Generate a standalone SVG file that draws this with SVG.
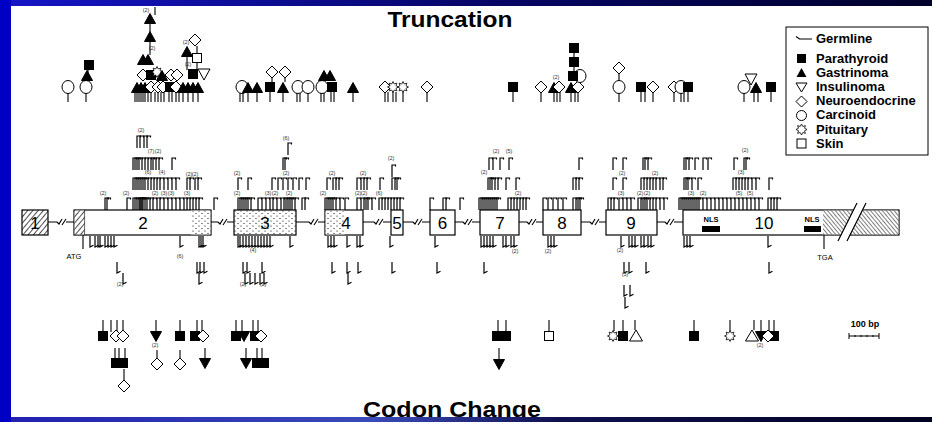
<svg xmlns="http://www.w3.org/2000/svg" width="932" height="422" viewBox="0 0 932 422">
<style>
.mk{stroke:#000;stroke-width:1.2;fill:none}
.st{stroke:#000;stroke-width:1.1;fill:none}
.sy{stroke:#000;stroke-width:1}
.n{font-family:"Liberation Sans",Arial,sans-serif;font-size:5.5px;fill:#333;text-anchor:middle}
.ex{font-family:"Liberation Sans",Arial,sans-serif;font-size:17px;fill:#000;text-anchor:middle}
.sm{font-family:"Liberation Sans",Arial,sans-serif;font-size:7.5px;fill:#000;text-anchor:middle}
.lg{font-family:"Liberation Sans",Arial,sans-serif;font-size:13px;font-weight:bold;fill:#000}
.ttl{font-family:"Liberation Sans",Arial,sans-serif;font-size:22px;font-weight:bold;fill:#000;text-anchor:middle}
.box{stroke:#000;stroke-width:1.2}
</style>
<defs>
<linearGradient id="gtop" x1="0" x2="1" y1="0" y2="0"><stop offset="0" stop-color="#1515c8"/><stop offset="0.5" stop-color="#06066a"/><stop offset="1" stop-color="#00002a"/></linearGradient>
<linearGradient id="gbot" x1="0" x2="1" y1="0" y2="0"><stop offset="0" stop-color="#2020b0"/><stop offset="0.4" stop-color="#3a4ab8"/><stop offset="0.6" stop-color="#101050"/><stop offset="1" stop-color="#000020"/></linearGradient>
<pattern id="hatch" width="4" height="4" patternUnits="userSpaceOnUse" patternTransform="rotate(40)"><rect width="4" height="4" fill="#fff"/><line x1="0" y1="0" x2="0" y2="4" stroke="#000" stroke-width="1.4"/></pattern>
<pattern id="hatch2" width="3" height="3" patternUnits="userSpaceOnUse" patternTransform="rotate(-40)"><rect width="3" height="3" fill="#fff"/><line x1="0" y1="0" x2="0" y2="3" stroke="#000" stroke-width="1"/></pattern>
<pattern id="dots" width="6" height="5" patternUnits="userSpaceOnUse"><rect width="6" height="5" fill="#fff"/><circle cx="1" cy="1" r="0.6" fill="#000"/><circle cx="4" cy="3.5" r="0.6" fill="#000"/></pattern>
<path id="u" d="M0 0V-12H3.5V-10.5"/>
<path id="d" d="M0 0V11L3.5 9.3"/>
<rect id="S" x="-4.5" y="-4.5" width="9" height="9" fill="#000" stroke="#000"/>
<rect id="So" x="-4.5" y="-4.5" width="9" height="9" fill="#fff" stroke="#000"/>
<polygon id="T" points="0,-5.5 5.5,4.5 -5.5,4.5" fill="#000" stroke="#000"/>
<polygon id="Td" points="-5.5,-4.5 5.5,-4.5 0,5.5" fill="#000" stroke="#000"/>
<polygon id="Ti" points="-6,-5 6,-5 0,6" fill="#fff" stroke="#000"/>
<polygon id="To" points="0,-6 6.5,5 -6.5,5" fill="#fff" stroke="#000"/>
<polygon id="D" points="0,-6 6,0 0,6 -6,0" fill="#fff" stroke="#000"/>
<ellipse id="C" rx="6" ry="6.5" fill="#fff" stroke="#000"/>
<polygon id="P" points="0,-5.5 1.3,-3 3.9,-3.9 3,-1.3 5.5,0 3,1.3 3.9,3.9 1.3,3 0,5.5 -1.3,3 -3.9,3.9 -3,1.3 -5.5,0 -3,-1.3 -3.9,-3.9 -1.3,-3" fill="#fff" stroke="#000" stroke-width="0.8"/>
</defs>

<rect width="932" height="422" fill="#fff"/>

<!-- titles -->
<text class="ttl" x="450" y="27" textLength="125" lengthAdjust="spacingAndGlyphs">Truncation</text>
<text class="ttl" x="452" y="417" textLength="178" lengthAdjust="spacingAndGlyphs">Codon Change</text>

<!-- connectors (introns) -->
<g id="connectors" class="st">
<path d="M48 222H57M66 222H74M211 222H218M227 222H234M296 222H309M318 222H325M363 222H374M383 222H391M403 222H413M422 222H430M455 222H463M472 222H480M519 222H527M536 222H543M581 222H590M599 222H606M657 222H665M674 222H683"/>
<path d="M57 222L59 224L62 219M62 225L66 219M218 222L220 224L223 219M223 225L227 219M309 222L311 224L314 219M314 225L318 219M374 222L376 224L379 219M379 225L383 219M413 222L415 224L418 219M418 225L422 219M463 222L465 224L468 219M468 225L472 219M527 222L529 224L532 219M532 225L536 219M590 222L592 224L595 219M595 225L599 219M665 222L667 224L670 219M670 225L674 219"/>
</g>

<!-- exons -->
<g id="exon1"><rect class="box" x="22" y="210" width="26" height="25" fill="url(#hatch)"/><text class="ex" x="35" y="229" fill="#000">1</text></g>
<g id="exon2"><rect class="box" x="74" y="210" width="137" height="25" fill="#fff"/><rect x="74.6" y="210.6" width="10" height="23.8" fill="url(#hatch)"/><line x1="84.6" y1="210" x2="84.6" y2="235" stroke="#000" stroke-width="0.6"/><rect x="191" y="210.6" width="19.4" height="23.8" fill="url(#dots)"/><text class="ex" x="143" y="229">2</text></g>
<g id="exon3"><rect class="box" x="234" y="210" width="62" height="25" fill="url(#dots)"/><text class="ex" x="265" y="229">3</text></g>
<g id="exon4"><rect class="box" x="325" y="210" width="38" height="25" fill="#fff"/><rect x="325.6" y="210.6" width="19" height="23.8" fill="url(#dots)"/><text class="ex" x="346" y="229">4</text></g>
<g id="exon5"><rect class="box" x="391" y="210" width="12" height="25" fill="#fff"/><text class="ex" x="397" y="229">5</text></g>
<g id="exon6"><rect class="box" x="430" y="210" width="25" height="25" fill="#fff"/><text class="ex" x="442.5" y="229">6</text></g>
<g id="exon7"><rect class="box" x="480" y="210" width="39" height="25" fill="#fff"/><text class="ex" x="500" y="229">7</text></g>
<g id="exon8"><rect class="box" x="543" y="210" width="38" height="25" fill="#fff"/><text class="ex" x="562" y="229">8</text></g>
<g id="exon9"><rect class="box" x="606" y="210" width="51" height="25" fill="#fff"/><text class="ex" x="631" y="229">9</text></g>
<g id="exon10"><rect class="box" x="683" y="210" width="216" height="25" fill="#fff"/><rect x="823" y="210.6" width="75.4" height="23.8" fill="url(#hatch2)"/>
<polygon points="838,241 847,241 866,203 857,203" fill="#fff"/><path d="M838 241L857 203M847 241L866 203" stroke="#000" stroke-width="1.2"/>
<rect x="702" y="226" width="18" height="6" fill="#000"/><rect x="804" y="226" width="17" height="6" fill="#000"/>
<text class="sm" x="711" y="222" font-weight="bold">NLS</text><text class="sm" x="812" y="222" font-weight="bold">NLS</text>
<text class="ex" x="764" y="229">10</text></g>
<g id="start-stop" class="st"><path d="M83 235V249M824 235V249"/></g>
<text class="sm" x="74" y="259">ATG</text>
<text class="sm" x="825" y="260">TGA</text>

<!-- germline mutation flags above gene -->
<g id="flags-above" class="mk">
<g transform="translate(0,210)">
<use href="#u" x="105"/><use href="#u" x="107"/><use href="#u" x="127"/><use href="#u" x="133"/><use href="#u" x="135"/><use href="#u" x="137"/><use href="#u" x="139"/><use href="#u" x="140"/><use href="#u" x="141"/><use href="#u" x="142"/><use href="#u" x="143"/><use href="#u" x="145"/><use href="#u" x="147"/><use href="#u" x="150"/><use href="#u" x="153"/><use href="#u" x="157"/><use href="#u" x="160"/><use href="#u" x="164"/><use href="#u" x="168"/><use href="#u" x="172"/><use href="#u" x="176"/><use href="#u" x="180"/><use href="#u" x="184"/><use href="#u" x="187"/><use href="#u" x="190"/><use href="#u" x="193"/><use href="#u" x="196"/><use href="#u" x="199"/><use href="#u" x="214"/>
<use href="#u" x="238"/><use href="#u" x="240"/><use href="#u" x="242"/><use href="#u" x="244"/><use href="#u" x="246"/><use href="#u" x="248"/><use href="#u" x="251"/><use href="#u" x="258"/><use href="#u" x="262"/><use href="#u" x="266"/><use href="#u" x="270"/><use href="#u" x="273"/><use href="#u" x="277"/><use href="#u" x="281"/><use href="#u" x="284"/><use href="#u" x="286"/><use href="#u" x="288"/><use href="#u" x="290"/><use href="#u" x="292"/><use href="#u" x="295"/><use href="#u" x="302"/><use href="#u" x="305"/>
<use href="#u" x="325"/><use href="#u" x="327"/><use href="#u" x="329"/><use href="#u" x="331"/><use href="#u" x="333"/><use href="#u" x="336"/><use href="#u" x="340"/><use href="#u" x="345"/><use href="#u" x="357"/><use href="#u" x="361"/><use href="#u" x="364"/><use href="#u" x="366"/><use href="#u" x="368"/><use href="#u" x="372"/><use href="#u" x="379"/><use href="#u" x="382"/><use href="#u" x="385"/><use href="#u" x="388"/><use href="#u" x="391"/><use href="#u" x="394"/><use href="#u" x="397"/><use href="#u" x="400"/>
<use href="#u" x="430"/><use href="#u" x="443"/><use href="#u" x="446"/><use href="#u" x="460"/>
<use href="#u" x="479"/><use href="#u" x="481"/><use href="#u" x="483"/><use href="#u" x="485"/><use href="#u" x="487"/><use href="#u" x="489"/><use href="#u" x="491"/><use href="#u" x="493"/><use href="#u" x="495"/><use href="#u" x="497"/><use href="#u" x="508"/><use href="#u" x="511"/><use href="#u" x="514"/><use href="#u" x="517"/><use href="#u" x="520"/><use href="#u" x="523"/><use href="#u" x="526"/>
<use href="#u" x="543"/><use href="#u" x="548"/><use href="#u" x="553"/><use href="#u" x="558"/><use href="#u" x="563"/><use href="#u" x="573"/><use href="#u" x="576"/><use href="#u" x="578"/><use href="#u" x="580"/>
<use href="#u" x="608"/><use href="#u" x="611"/><use href="#u" x="614"/><use href="#u" x="619"/><use href="#u" x="623"/><use href="#u" x="627"/><use href="#u" x="631"/><use href="#u" x="638"/><use href="#u" x="641"/><use href="#u" x="643"/><use href="#u" x="645"/><use href="#u" x="647"/><use href="#u" x="650"/><use href="#u" x="653"/><use href="#u" x="656"/><use href="#u" x="660"/><use href="#u" x="664"/>
<use href="#u" x="679"/><use href="#u" x="681"/><use href="#u" x="683"/><use href="#u" x="685"/><use href="#u" x="687"/><use href="#u" x="689"/><use href="#u" x="691"/><use href="#u" x="693"/><use href="#u" x="695"/><use href="#u" x="697"/><use href="#u" x="699"/><use href="#u" x="703"/><use href="#u" x="707"/><use href="#u" x="711"/><use href="#u" x="715"/><use href="#u" x="719"/><use href="#u" x="723"/><use href="#u" x="727"/><use href="#u" x="731"/><use href="#u" x="735"/><use href="#u" x="739"/><use href="#u" x="743"/><use href="#u" x="747"/><use href="#u" x="751"/><use href="#u" x="755"/><use href="#u" x="759"/><use href="#u" x="768"/><use href="#u" x="771"/><use href="#u" x="774"/><use href="#u" x="777"/>
</g>
<g transform="translate(0,190)">
<use href="#u" x="133"/><use href="#u" x="135"/><use href="#u" x="137"/><use href="#u" x="139"/><use href="#u" x="141"/><use href="#u" x="143"/><use href="#u" x="145"/><use href="#u" x="148"/><use href="#u" x="151"/><use href="#u" x="154"/><use href="#u" x="157"/><use href="#u" x="160"/><use href="#u" x="164"/><use href="#u" x="168"/><use href="#u" x="172"/><use href="#u" x="176"/><use href="#u" x="187"/><use href="#u" x="190"/><use href="#u" x="195"/><use href="#u" x="198"/>
<use href="#u" x="238"/><use href="#u" x="248"/><use href="#u" x="272"/><use href="#u" x="278"/><use href="#u" x="283"/><use href="#u" x="288"/><use href="#u" x="293"/><use href="#u" x="299"/><use href="#u" x="306"/>
<use href="#u" x="327"/><use href="#u" x="333"/><use href="#u" x="336"/><use href="#u" x="339"/><use href="#u" x="357"/><use href="#u" x="361"/><use href="#u" x="364"/><use href="#u" x="367"/><use href="#u" x="380"/><use href="#u" x="392"/><use href="#u" x="395"/><use href="#u" x="397"/>
<use href="#u" x="488"/><use href="#u" x="490"/><use href="#u" x="492"/><use href="#u" x="495"/><use href="#u" x="498"/><use href="#u" x="506"/><use href="#u" x="516"/>
<use href="#u" x="573"/><use href="#u" x="576"/><use href="#u" x="579"/>
<use href="#u" x="613"/><use href="#u" x="623"/><use href="#u" x="641"/><use href="#u" x="644"/><use href="#u" x="647"/><use href="#u" x="650"/><use href="#u" x="653"/><use href="#u" x="656"/><use href="#u" x="660"/><use href="#u" x="663"/>
<use href="#u" x="684"/><use href="#u" x="686"/><use href="#u" x="688"/><use href="#u" x="692"/><use href="#u" x="698"/><use href="#u" x="733"/><use href="#u" x="736"/><use href="#u" x="739"/><use href="#u" x="742"/><use href="#u" x="745"/><use href="#u" x="748"/><use href="#u" x="752"/><use href="#u" x="756"/><use href="#u" x="769"/>
</g>
<use href="#u" x="392" y="177"/>
<g transform="translate(0,170)">
<use href="#u" x="133"/><use href="#u" x="135"/><use href="#u" x="137"/><use href="#u" x="139"/><use href="#u" x="142"/><use href="#u" x="145"/><use href="#u" x="148"/><use href="#u" x="151"/><use href="#u" x="153"/><use href="#u" x="156"/><use href="#u" x="159"/><use href="#u" x="172"/>
<use href="#u" x="283"/><use href="#u" x="285"/>
<use href="#u" x="489"/><use href="#u" x="493"/><use href="#u" x="500"/><use href="#u" x="509"/>
<use href="#u" x="579"/>
<use href="#u" x="613"/><use href="#u" x="623"/><use href="#u" x="643"/><use href="#u" x="645"/><use href="#u" x="648"/>
<use href="#u" x="684"/><use href="#u" x="686"/><use href="#u" x="689"/><use href="#u" x="695"/><use href="#u" x="703"/><use href="#u" x="708"/><use href="#u" x="734"/><use href="#u" x="744"/><use href="#u" x="746"/>
</g>
<use href="#u" x="288" y="155"/>
<g transform="translate(0,148)"><use href="#u" x="137"/><use href="#u" x="140"/><use href="#u" x="144"/><use href="#u" x="147"/></g>
</g>

<!-- flags below gene -->
<g id="flags-below" class="mk">
<g transform="translate(0,236)">
<use href="#d" x="90"/><use href="#d" x="95"/><use href="#d" x="98"/><use href="#d" x="100"/><use href="#d" x="105"/><use href="#d" x="108"/><use href="#d" x="111"/><use href="#d" x="114"/><use href="#d" x="180"/><use href="#d" x="199"/><use href="#d" x="201"/><use href="#d" x="203"/>
<use href="#d" x="238"/><use href="#d" x="240"/><use href="#d" x="243"/><use href="#d" x="246"/><use href="#d" x="249"/><use href="#d" x="252"/><use href="#d" x="255"/><use href="#d" x="258"/><use href="#d" x="261"/><use href="#d" x="264"/><use href="#d" x="267"/><use href="#d" x="270"/><use href="#d" x="290"/>
<use href="#d" x="328"/><use href="#d" x="331"/><use href="#d" x="334"/><use href="#d" x="347"/><use href="#d" x="357"/><use href="#d" x="360"/><use href="#d" x="390"/><use href="#d" x="435"/>
<use href="#d" x="481"/><use href="#d" x="484"/><use href="#d" x="487"/><use href="#d" x="490"/><use href="#d" x="493"/><use href="#d" x="503"/><use href="#d" x="506"/><use href="#d" x="511"/><use href="#d" x="514"/>
<use href="#d" x="548"/><use href="#d" x="551"/><use href="#d" x="554"/>
<use href="#d" x="621"/><use href="#d" x="629"/><use href="#d" x="632"/><use href="#d" x="635"/><use href="#d" x="641"/><use href="#d" x="644"/><use href="#d" x="648"/><use href="#d" x="651"/>
<use href="#d" x="684"/><use href="#d" x="687"/><use href="#d" x="690"/><use href="#d" x="768"/>
</g>
<g transform="translate(0,262)">
<use href="#d" x="117"/><use href="#d" x="197"/><use href="#d" x="200"/><use href="#d" x="204"/><use href="#d" x="243"/><use href="#d" x="247"/><use href="#d" x="262"/><use href="#d" x="332"/><use href="#d" x="347"/><use href="#d" x="358"/><use href="#d" x="392"/><use href="#d" x="437"/><use href="#d" x="484"/><use href="#d" x="624"/><use href="#d" x="629"/><use href="#d" x="646"/><use href="#d" x="769"/>
</g>
<g transform="translate(0,273)">
<use href="#d" x="123"/><use href="#d" x="199"/><use href="#d" x="245"/><use href="#d" x="250"/><use href="#d" x="255"/><use href="#d" x="260"/><use href="#d" x="264"/><use href="#d" x="348"/>
</g>
<use href="#d" x="624" y="285"/><use href="#d" x="630" y="285"/><use href="#d" x="625" y="297"/>
</g>

<!-- count labels -->
<g id="counts">
<text class="n" x="103" y="195">(2)</text><text class="n" x="126" y="195">(2)</text><text class="n" x="155" y="195">(2)</text><text class="n" x="164" y="195">(3)</text><text class="n" x="171" y="195">(3)</text><text class="n" x="187" y="195">(3)</text>
<text class="n" x="148" y="174">(6)</text><text class="n" x="162" y="174">(4)</text><text class="n" x="189" y="176">(2)</text><text class="n" x="195" y="176">(2)</text>
<text class="n" x="151" y="153">(7)</text><text class="n" x="158" y="153">(2)</text><text class="n" x="141" y="132">(2)</text>
<text class="n" x="237" y="195">(2)</text><text class="n" x="268" y="195">(3)</text><text class="n" x="275" y="195">(2)</text><text class="n" x="289" y="195">(2)</text>
<text class="n" x="237" y="175">(2)</text><text class="n" x="286" y="175">(2)</text><text class="n" x="286" y="140">(6)</text>
<text class="n" x="323" y="195">(2)</text><text class="n" x="358" y="195">(2)</text><text class="n" x="364" y="195">(2)</text><text class="n" x="379" y="195">(6)</text>
<text class="n" x="332" y="175">(2)</text><text class="n" x="363" y="175">(2)</text><text class="n" x="391" y="160">(2)</text>
<text class="n" x="484" y="174">(2)</text><text class="n" x="496" y="153">(2)</text><text class="n" x="509" y="153">(5)</text><text class="n" x="518" y="195">(2)</text>
<text class="n" x="621" y="195">(3)</text><text class="n" x="640" y="195">(2)</text><text class="n" x="647" y="195">(2)</text><text class="n" x="622" y="175">(2)</text><text class="n" x="655" y="175">(2)</text>
<text class="n" x="691" y="195">(3)</text><text class="n" x="703" y="195">(2)</text><text class="n" x="739" y="195">(5)</text><text class="n" x="750" y="195">(5)</text><text class="n" x="741" y="174">(3)</text><text class="n" x="745" y="152">(2)</text>
<text class="n" x="180" y="258">(6)</text><text class="n" x="253" y="252">(4)</text><text class="n" x="515" y="253">(2)</text><text class="n" x="548" y="253">(2)</text><text class="n" x="620" y="252">(2)</text>
<text class="n" x="120" y="286">(2)</text><text class="n" x="243" y="286">(2)</text><text class="n" x="263" y="286">(2)</text><text class="n" x="625" y="276">(3)</text>
<text class="n" x="146" y="12">(2)</text><text class="n" x="152" y="50">(2)</text><text class="n" x="186" y="44">(2)</text><text class="n" x="188" y="66">(2)</text><text class="n" x="556" y="79">(2)</text>
<text class="n" x="155" y="347">(2)</text><text class="n" x="760" y="347">(2)</text>
</g>

<!-- truncation tumour symbols -->
<g id="truncation-stems" class="st">
<path d="M68 93V102M86 93V102M135 92V102M137 92V102M139 92V102M141 92V102M143 92V102M145 92V102M148 92V102M151 92V102M155 92V102M158 92V102M161 92V102M164 92V102M169 92V102M172 92V102M176 92V102M179 92V102M183 92V102M188 92V102M193 92V102M198 92V102"/>
<path d="M240 93V102M243 93V102M248 92V102M257 92V102M270 92V102M283 92V102M297 93V102M300 93V102M308 93V102M321 93V102M324 93V102M331 92V102M334 92V102M353 92V102M385 92V102M388 92V102M393 92V102M396 92V102M403 92V102M427 92V102"/>
<path d="M513 92V102M541 92V102M554 92V102M557 92V102M560 92V102M571 92V102M575 92V102M578 92V102M619 93V102M641 92V102M645 92V102M653 92V102M674 92V102M681 93V102M684 93V102M688 92V102M744 93V102M754 92V102M758 92V102M771 92V102"/>
<path d="M88 70V73M150 24V32M150 42V55M155 7V15M187 57V70M197 46V53M197 63V70M272 78V82M285 78V82M574 53V57M574 67V71M619 74V81"/>
</g>
<g id="truncation-symbols" class="sy">
<use href="#C" x="68" y="87"/><use href="#C" x="86" y="87"/><use href="#T" x="87" y="76"/><use href="#S" x="89" y="65"/>
<use href="#T" x="137" y="88"/><use href="#T" x="141" y="88"/><use href="#T" x="145" y="88"/><use href="#D" x="151" y="87"/><use href="#D" x="158" y="87"/><use href="#D" x="163" y="87"/><use href="#S" x="170" y="87"/><use href="#D" x="176" y="87"/><use href="#T" x="183" y="88"/><use href="#T" x="188" y="88"/><use href="#T" x="193" y="88"/><use href="#T" x="198" y="88"/>
<use href="#D" x="143" y="75"/><use href="#S" x="151" y="75"/><use href="#P" x="157" y="72"/><use href="#T" x="162" y="76"/><use href="#D" x="171" y="75"/><use href="#D" x="177" y="75"/><use href="#S" x="193" y="74"/><use href="#Ti" x="204" y="74"/>
<use href="#T" x="143" y="60"/><use href="#T" x="148" y="60"/><use href="#T" x="150" y="37"/><use href="#T" x="150" y="19"/>
<use href="#T" x="187" y="52"/><use href="#So" x="197" y="58"/><use href="#D" x="195" y="40"/>
<use href="#C" x="242" y="87"/><use href="#T" x="248" y="88"/><use href="#T" x="257" y="88"/><use href="#S" x="270" y="87"/><use href="#T" x="283" y="88"/><use href="#D" x="272" y="72"/><use href="#D" x="285" y="72"/>
<use href="#C" x="298" y="87"/><use href="#C" x="308" y="87"/><use href="#C" x="322" y="87"/><use href="#S" x="332" y="87"/><use href="#T" x="324" y="76"/><use href="#T" x="330" y="76"/>
<use href="#T" x="353" y="88"/><use href="#D" x="385" y="87"/><use href="#P" x="393" y="87"/><use href="#P" x="403" y="87"/><use href="#D" x="427" y="87"/>
<use href="#S" x="513" y="87"/><use href="#D" x="541" y="87"/><use href="#T" x="554" y="88"/><use href="#D" x="559" y="87"/><use href="#T" x="571" y="88"/><use href="#D" x="578" y="87"/>
<use href="#C" x="580" y="76"/><use href="#S" x="573" y="76"/><use href="#S" x="574" y="62"/><use href="#S" x="574" y="48"/>
<use href="#D" x="619" y="68"/><use href="#C" x="619" y="87"/><use href="#S" x="641" y="87"/><use href="#D" x="653" y="87"/>
<use href="#D" x="674" y="87"/><use href="#C" x="681" y="87"/><use href="#S" x="688" y="87"/>
<use href="#C" x="744" y="87"/><use href="#Ti" x="751" y="79"/><use href="#T" x="756" y="88"/><use href="#S" x="771" y="87"/>
</g>

<!-- codon change tumour symbols -->
<g id="codon-stems" class="st">
<path d="M103 320V332M111 320V332M117 320V332M123 320V332M156 320V331M180 320V332M197 320V332M202 320V332M236 320V332M242 320V331M253 320V332M258 320V332"/>
<path d="M115 348V359M119 348V359M125 348V359M124 369V380M157 350V358M180 350V358M205 348V358M246 348V358M257 348V359M262 348V359M499 348V359"/>
<path d="M498 320V332M506 320V332M549 320V331M614 320V331M623 320V332M635 320V330M694 320V332M730 320V331M754 320V330M761 320V331M769 320V331M774 320V332"/>
</g>
<g id="codon-symbols" class="sy">
<use href="#S" x="103" y="336"/><use href="#D" x="116" y="336"/><use href="#D" x="123" y="336"/>
<use href="#Td" x="156" y="336"/><use href="#S" x="180" y="336"/><use href="#S" x="195" y="336"/><use href="#D" x="203" y="336"/>
<use href="#S" x="236" y="336"/><use href="#Td" x="244" y="336"/><use href="#S" x="255" y="336"/><use href="#D" x="261" y="336"/>
<use href="#S" x="116" y="363"/><use href="#S" x="123" y="363"/><use href="#D" x="124" y="386"/><use href="#D" x="157" y="364"/><use href="#D" x="180" y="364"/>
<use href="#Td" x="205" y="363"/><use href="#Td" x="246" y="363"/><use href="#S" x="257" y="363"/><use href="#S" x="264" y="363"/>
<use href="#S" x="497" y="336"/><use href="#S" x="506" y="336"/><use href="#Td" x="499" y="364"/><use href="#So" x="549" y="336"/>
<use href="#P" x="613" y="336"/><use href="#S" x="623" y="336"/><use href="#To" x="636" y="336"/><use href="#S" x="694" y="336"/><use href="#P" x="730" y="336"/>
<use href="#To" x="752" y="336"/><use href="#Td" x="761" y="336"/><use href="#S" x="774" y="336"/><use href="#D" x="768" y="336"/>
</g>

<!-- scale bar -->
<g id="scale">
<text x="865" y="327" font-family="Liberation Sans, Arial, sans-serif" font-size="9" font-weight="bold" text-anchor="middle">100 bp</text>
<path d="M849 336H879M849 333V339M879 333V339M855 335V337M861 335V337M867 335V337M873 335V337" stroke="#000" stroke-width="1"/>
</g>

<!-- legend -->
<g id="legend">
<rect x="786" y="27" width="142" height="128" fill="#fff" stroke="#000" stroke-width="1"/>
<path d="M796 36.5L799.5 39H812" stroke="#000" stroke-width="1.2" fill="none"/>
<rect x="797" y="54" width="9" height="9" fill="#000"/>
<polygon points="801.5,68 806.5,77 796.5,77" fill="#000"/>
<polygon points="796,83 807,83 801.5,92" fill="#fff" stroke="#000"/>
<polygon points="801.5,96 807,101.5 801.5,107 796,101.5" fill="#fff" stroke="#000"/>
<circle cx="801.5" cy="115.5" r="5" fill="#fff" stroke="#000"/>
<use href="#P" x="801.5" y="129.5"/>
<rect x="797" y="139" width="9" height="9" fill="#fff" stroke="#000"/>
<text class="lg" x="816" y="43">Germline</text>
<text class="lg" x="816" y="62.5">Parathyroid</text>
<text class="lg" x="816" y="76.7">Gastrinoma</text>
<text class="lg" x="816" y="90.9">Insulinoma</text>
<text class="lg" x="816" y="105.1">Neuroendocrine</text>
<text class="lg" x="816" y="119.3">Carcinoid</text>
<text class="lg" x="816" y="133.5">Pituitary</text>
<text class="lg" x="816" y="147.7">Skin</text>
</g>

<!-- slide frame -->
<g id="frame">
<rect x="0" y="0" width="932" height="6" fill="url(#gtop)"/>
<rect x="0" y="417" width="932" height="5" fill="url(#gbot)"/>
<rect x="0" y="0" width="11" height="422" fill="#0000c4"/>
</g>
</svg>
